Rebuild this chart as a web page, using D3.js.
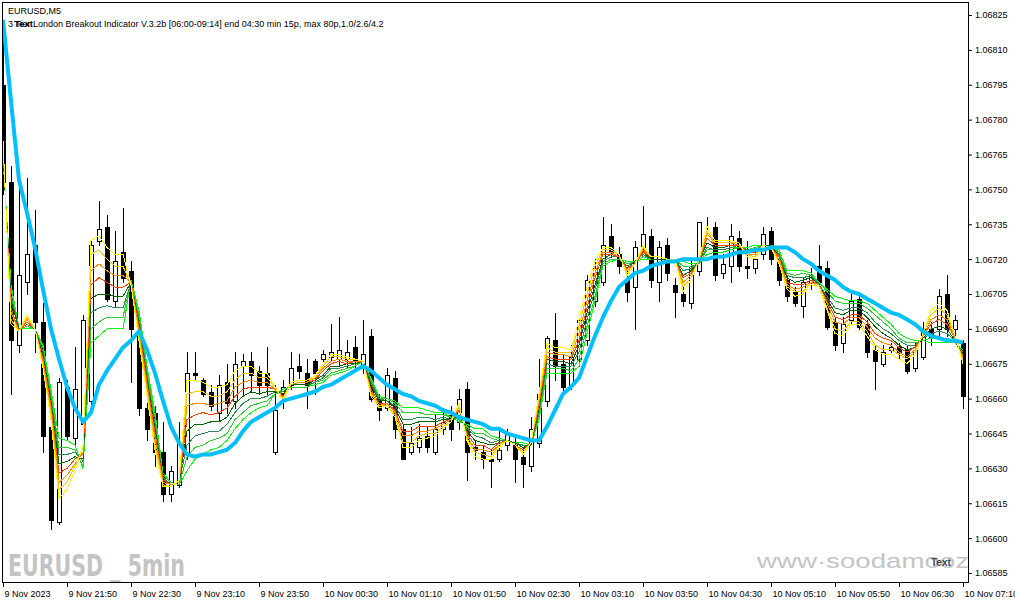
<!DOCTYPE html>
<html><head><meta charset="utf-8">
<script src="https://cdn.jsdelivr.net/npm/d3@7"></script>
<style>html,body{margin:0;padding:0;background:#fff;}svg{display:block;}</style>
</head><body>
<svg id="chart" width="1015" height="605"></svg>
<script>
// ---- data (EURUSD M5) ----
const timeLabels = ["9 Nov 2023","9 Nov 21:50","9 Nov 22:30","9 Nov 23:10","9 Nov 23:50","10 Nov 00:30","10 Nov 01:10","10 Nov 01:50","10 Nov 02:30","10 Nov 03:10","10 Nov 03:50","10 Nov 04:30","10 Nov 05:10","10 Nov 05:50","10 Nov 06:30","10 Nov 07:10"];
const timeLabelBars = [0,8,16,24,32,40,48,56,64,72,80,88,96,104,112,120];
const priceTicks = [1.06825,1.06810,1.06795,1.06780,1.06765,1.06750,1.06735,1.06720,1.06705,1.06690,1.06675,1.06660,1.06645,1.06630,1.06615,1.06600,1.06585];

const open = [1.06795,1.06753,1.06683,1.06710,1.06726,1.06693,1.06648,1.06607,1.06665,1.06643,
1.06649,1.06659,1.06728,1.06734,1.06702,1.06723,1.06715,1.06691,1.06656,1.06654,
1.06637,1.06619,1.06623,1.06636,1.06671,1.06668,1.06663,1.06654,1.06667,1.06659,
1.06674,1.06676,1.06672,1.06671,1.06637,1.06662,1.06666,1.06674,1.06671,1.06676,
1.06677,1.06678,1.06677,1.06677,1.06682,1.06674,1.06687,1.06660,1.06656,1.06669,
1.06647,1.06637,1.06639,1.06644,1.06637,1.06647,1.06653,1.06650,1.06664,1.06639,
1.06637,1.06634,1.06634,1.06640,1.06640,1.06635,1.06631,1.06641,1.06659,1.06685,
1.06675,1.06666,1.06677,1.06685,1.06702,1.06710,1.06730,1.06722,1.06711,1.06708,
1.06725,1.06730,1.06710,1.06726,1.06709,1.06705,1.06701,1.06715,1.06736,1.06734,
1.06714,1.06717,1.06729,1.06717,1.06716,1.06722,1.06732,1.06720,1.06711,1.06706,
1.06700,1.06710,1.06717,1.06716,1.06693,1.06684,1.06694,1.06703,1.06692,1.06681,
1.06675,1.06681,1.06682,1.06681,1.06673,1.06678,1.06690,1.06690,1.06705,1.06690,
1.06684];
const high = [1.06815,1.06760,1.06758,1.06755,1.06741,1.06701,1.06655,1.06669,1.06668,1.06682,
1.06696,1.06728,1.06745,1.06739,1.06732,1.06742,1.06719,1.06695,1.06659,1.06657,
1.06650,1.06631,1.06650,1.06680,1.06680,1.06669,1.06666,1.06670,1.06675,1.06680,
1.06679,1.06680,1.06674,1.06682,1.06666,1.06668,1.06680,1.06679,1.06677,1.06677,
1.06681,1.06692,1.06695,1.06685,1.06687,1.06694,1.06690,1.06662,1.06673,1.06672,
1.06649,1.06648,1.06649,1.06648,1.06653,1.06656,1.06657,1.06664,1.06667,1.06642,
1.06640,1.06638,1.06647,1.06647,1.06643,1.06639,1.06652,1.06677,1.06687,1.06697,
1.06679,1.06683,1.06696,1.06713,1.06720,1.06738,1.06735,1.06725,1.06715,1.06728,
1.06743,1.06733,1.06728,1.06729,1.06712,1.06708,1.06719,1.06736,1.06738,1.06736,
1.06722,1.06735,1.06732,1.06728,1.06724,1.06734,1.06734,1.06721,1.06713,1.06708,
1.06712,1.06716,1.06726,1.06719,1.06695,1.06695,1.06705,1.06705,1.06694,1.06683,
1.06683,1.06684,1.06684,1.06683,1.06684,1.06693,1.06693,1.06707,1.06713,1.06696,
1.06685];
const low = [1.06748,1.06662,1.06680,1.06705,1.06680,1.06637,1.06604,1.06606,1.06642,1.06640,
1.06647,1.06657,1.06726,1.06702,1.06700,1.06710,1.06667,1.06653,1.06642,1.06631,
1.06616,1.06616,1.06622,1.06634,1.06668,1.06661,1.06655,1.06651,1.06654,1.06656,
1.06662,1.06663,1.06662,1.06662,1.06636,1.06656,1.06664,1.06669,1.06656,1.06662,
1.06676,1.06676,1.06674,1.06673,1.06672,1.06671,1.06659,1.06651,1.06655,1.06643,
1.06634,1.06636,1.06637,1.06637,1.06636,1.06645,1.06642,1.06647,1.06625,1.06634,
1.06630,1.06622,1.06633,1.06638,1.06624,1.06622,1.06629,1.06639,1.06657,1.06668,
1.06663,1.06664,1.06674,1.06683,1.06700,1.06709,1.06721,1.06714,1.06702,1.06690,
1.06723,1.06708,1.06702,1.06711,1.06695,1.06700,1.06699,1.06713,1.06733,1.06711,
1.06712,1.06710,1.06715,1.06712,1.06714,1.06720,1.06718,1.06709,1.06702,1.06700,
1.06695,1.06707,1.06707,1.06690,1.06681,1.06680,1.06692,1.06690,1.06678,1.06664,
1.06674,1.06680,1.06677,1.06671,1.06672,1.06677,1.06683,1.06687,1.06687,1.06685,
1.06656];
const close = [1.06753,1.06685,1.06713,1.06722,1.06693,1.06644,1.06608,1.06667,1.06644,1.06664,
1.06694,1.06726,1.06733,1.06703,1.06719,1.06712,1.06690,1.06656,1.06647,1.06637,
1.06619,1.06629,1.06641,1.06671,1.06670,1.06662,1.06657,1.06666,1.06658,1.06675,
1.06676,1.06670,1.06666,1.06666,1.06655,1.06665,1.06673,1.06672,1.06666,1.06671,
1.06679,1.06680,1.06681,1.06680,1.06676,1.06679,1.06660,1.06655,1.06670,1.06647,
1.06634,1.06641,1.06643,1.06639,1.06647,1.06650,1.06647,1.06660,1.06637,1.06638,
1.06634,1.06633,1.06638,1.06645,1.06634,1.06632,1.06647,1.06662,1.06686,1.06674,
1.06665,1.06678,1.06694,1.06711,1.06716,1.06726,1.06723,1.06717,1.06706,1.06725,
1.06731,1.06711,1.06725,1.06714,1.06706,1.06702,1.06717,1.06736,1.06736,1.06713,
1.06718,1.06730,1.06717,1.06716,1.06720,1.06731,1.06720,1.06711,1.06704,1.06701,
1.06710,1.06713,1.06710,1.06691,1.06683,1.06692,1.06702,1.06691,1.06680,1.06676,
1.06680,1.06682,1.06680,1.06672,1.06681,1.06690,1.06686,1.06704,1.06690,1.06694,
1.06661];

// slow moving average (thick blue)
const slowMA = [1.06823,1.06788,1.06754,1.06740,1.06725,1.06707,1.06690,1.06677,1.06665,1.06656,
1.06650,1.06654,1.06666,1.06672,1.06677,1.06682,1.06685,1.06689,1.06681,1.06671,
1.06659,1.06648,1.06641,1.06636,1.06635,1.06636,1.06636,1.06637,1.06638,1.06641,
1.06646,1.06650,1.06652,1.06654,1.06656,1.06659,1.06660,1.06661,1.06662,1.06663,
1.06665,1.06666,1.06668,1.06670,1.06672,1.06674,1.06672,1.06669,1.06666,1.06664,
1.06662,1.06661,1.06659,1.06658,1.06657,1.06655,1.06654,1.06652,1.06651,1.06650,
1.06649,1.06647,1.06647,1.06645,1.06644,1.06643,1.06642,1.06642,1.06648,1.06655,
1.06662,1.06665,1.06669,1.06678,1.06687,1.06695,1.06702,1.06708,1.06711,1.06714,
1.06715,1.06717,1.06718,1.06719,1.06719,1.06720,1.06720,1.06720,1.06720,1.06721,
1.06721,1.06722,1.06723,1.06723,1.06724,1.06724,1.06725,1.06725,1.06725,1.06723,
1.06720,1.06718,1.06715,1.06713,1.06711,1.06708,1.06706,1.06705,1.06703,1.06701,
1.06699,1.06697,1.06696,1.06694,1.06692,1.06689,1.06687,1.06686,1.06685,1.06685,
1.06684];

// ribbon of moving averages, fastest to slowest
const ribbonYellow = [1.06771,1.06692,1.06689,1.06696,1.06690,1.06673,1.06651,1.06617,1.06621,1.06629,
1.06640,1.06728,1.06730,1.06725,1.06722,1.06722,1.06709,1.06685,1.06661,1.06638,
1.06622,1.06622,1.06625,1.06668,1.06668,1.06667,1.06665,1.06665,1.06666,1.06672,
1.06674,1.06674,1.06671,1.06671,1.06665,1.06659,1.06667,1.06668,1.06668,1.06670,
1.06675,1.06679,1.06679,1.06678,1.06677,1.06676,1.06661,1.06656,1.06657,1.06652,
1.06639,1.06639,1.06642,1.06643,1.06644,1.06647,1.06650,1.06658,1.06642,1.06635,
1.06634,1.06634,1.06639,1.06642,1.06640,1.06636,1.06641,1.06662,1.06684,1.06682,
1.06682,1.06681,1.06694,1.06708,1.06719,1.06725,1.06725,1.06722,1.06713,1.06718,
1.06726,1.06721,1.06721,1.06720,1.06720,1.06706,1.06711,1.06720,1.06734,1.06728,
1.06728,1.06728,1.06727,1.06721,1.06720,1.06726,1.06725,1.06718,1.06707,1.06704,
1.06705,1.06709,1.06708,1.06698,1.06688,1.06687,1.06692,1.06692,1.06687,1.06681,
1.06679,1.06679,1.06677,1.06675,1.06679,1.06688,1.06698,1.06701,1.06698,1.06687,
1.06675];
const ribbonGold = [1.06770,1.06694,1.06689,1.06695,1.06690,1.06674,1.06653,1.06621,1.06624,1.06631,
1.06639,1.06722,1.06724,1.06720,1.06717,1.06717,1.06709,1.06687,1.06663,1.06640,
1.06623,1.06622,1.06625,1.06662,1.06663,1.06663,1.06661,1.06661,1.06663,1.06668,
1.06671,1.06671,1.06669,1.06669,1.06665,1.06660,1.06667,1.06668,1.06668,1.06669,
1.06674,1.06678,1.06678,1.06677,1.06677,1.06676,1.06662,1.06657,1.06657,1.06653,
1.06641,1.06641,1.06644,1.06645,1.06645,1.06648,1.06650,1.06657,1.06643,1.06637,
1.06636,1.06635,1.06640,1.06642,1.06640,1.06637,1.06641,1.06660,1.06682,1.06680,
1.06680,1.06680,1.06691,1.06705,1.06717,1.06724,1.06724,1.06722,1.06714,1.06718,
1.06725,1.06721,1.06721,1.06720,1.06720,1.06708,1.06712,1.06720,1.06732,1.06727,
1.06727,1.06727,1.06727,1.06722,1.06721,1.06726,1.06725,1.06719,1.06708,1.06706,
1.06706,1.06710,1.06708,1.06699,1.06690,1.06689,1.06693,1.06693,1.06689,1.06683,
1.06681,1.06681,1.06679,1.06677,1.06680,1.06688,1.06696,1.06699,1.06696,1.06687,
1.06676];
const ribbonOrange = [1.06769,1.06697,1.06689,1.06694,1.06690,1.06676,1.06655,1.06624,1.06627,1.06632,
1.06637,1.06715,1.06718,1.06715,1.06713,1.06713,1.06710,1.06689,1.06665,1.06643,
1.06624,1.06623,1.06624,1.06657,1.06658,1.06658,1.06657,1.06658,1.06659,1.06665,
1.06667,1.06668,1.06667,1.06667,1.06664,1.06660,1.06666,1.06667,1.06667,1.06669,
1.06673,1.06676,1.06677,1.06676,1.06676,1.06676,1.06663,1.06657,1.06658,1.06654,
1.06644,1.06644,1.06646,1.06646,1.06647,1.06649,1.06651,1.06656,1.06644,1.06638,
1.06638,1.06637,1.06640,1.06642,1.06640,1.06637,1.06641,1.06659,1.06680,1.06679,
1.06679,1.06678,1.06688,1.06702,1.06714,1.06723,1.06723,1.06721,1.06715,1.06718,
1.06724,1.06721,1.06721,1.06720,1.06720,1.06710,1.06713,1.06719,1.06731,1.06727,
1.06727,1.06727,1.06726,1.06722,1.06722,1.06726,1.06725,1.06720,1.06709,1.06707,
1.06708,1.06710,1.06709,1.06701,1.06693,1.06692,1.06695,1.06695,1.06691,1.06686,
1.06684,1.06683,1.06680,1.06678,1.06681,1.06687,1.06694,1.06696,1.06694,1.06686,
1.06677];
const ribbonRed = [1.06768,1.06699,1.06689,1.06693,1.06690,1.06677,1.06657,1.06628,1.06630,1.06634,
1.06636,1.06709,1.06712,1.06710,1.06708,1.06708,1.06710,1.06691,1.06667,1.06645,
1.06625,1.06623,1.06624,1.06651,1.06653,1.06654,1.06653,1.06654,1.06656,1.06661,
1.06664,1.06665,1.06665,1.06665,1.06664,1.06661,1.06666,1.06667,1.06667,1.06668,
1.06672,1.06675,1.06676,1.06675,1.06676,1.06676,1.06664,1.06658,1.06658,1.06655,
1.06646,1.06646,1.06648,1.06648,1.06648,1.06650,1.06651,1.06655,1.06645,1.06640,
1.06640,1.06638,1.06641,1.06642,1.06640,1.06638,1.06641,1.06657,1.06678,1.06677,
1.06677,1.06677,1.06685,1.06699,1.06712,1.06722,1.06722,1.06721,1.06716,1.06718,
1.06723,1.06721,1.06721,1.06720,1.06720,1.06712,1.06714,1.06719,1.06729,1.06726,
1.06726,1.06726,1.06726,1.06723,1.06723,1.06726,1.06725,1.06721,1.06710,1.06709,
1.06709,1.06711,1.06709,1.06702,1.06695,1.06694,1.06696,1.06696,1.06693,1.06688,
1.06686,1.06685,1.06682,1.06680,1.06682,1.06687,1.06692,1.06694,1.06692,1.06686,
1.06678];
const ribbonDarkGreen = [1.06766,1.06702,1.06690,1.06693,1.06690,1.06679,1.06658,1.06632,1.06633,1.06635,
1.06634,1.06703,1.06705,1.06705,1.06704,1.06704,1.06710,1.06692,1.06668,1.06647,
1.06625,1.06623,1.06624,1.06646,1.06649,1.06649,1.06650,1.06650,1.06652,1.06658,
1.06661,1.06663,1.06662,1.06663,1.06663,1.06662,1.06666,1.06666,1.06666,1.06668,
1.06670,1.06674,1.06674,1.06675,1.06675,1.06676,1.06666,1.06659,1.06659,1.06656,
1.06649,1.06649,1.06650,1.06650,1.06650,1.06651,1.06651,1.06653,1.06646,1.06642,
1.06641,1.06640,1.06641,1.06642,1.06641,1.06639,1.06640,1.06656,1.06677,1.06676,
1.06676,1.06675,1.06683,1.06697,1.06709,1.06720,1.06722,1.06721,1.06716,1.06719,
1.06723,1.06720,1.06720,1.06720,1.06720,1.06713,1.06715,1.06719,1.06727,1.06725,
1.06725,1.06726,1.06726,1.06723,1.06723,1.06726,1.06726,1.06721,1.06712,1.06710,
1.06711,1.06712,1.06709,1.06703,1.06697,1.06696,1.06698,1.06698,1.06695,1.06691,
1.06688,1.06686,1.06683,1.06681,1.06682,1.06686,1.06690,1.06691,1.06690,1.06685,
1.06678];
const ribbonSeaGreen = [1.06765,1.06704,1.06690,1.06692,1.06690,1.06680,1.06660,1.06636,1.06636,1.06637,
1.06633,1.06697,1.06699,1.06700,1.06699,1.06699,1.06710,1.06694,1.06670,1.06649,
1.06626,1.06623,1.06624,1.06640,1.06644,1.06645,1.06646,1.06646,1.06649,1.06654,
1.06658,1.06660,1.06660,1.06661,1.06663,1.06663,1.06666,1.06666,1.06666,1.06667,
1.06669,1.06673,1.06673,1.06674,1.06675,1.06676,1.06667,1.06660,1.06659,1.06657,
1.06651,1.06651,1.06652,1.06652,1.06651,1.06652,1.06651,1.06652,1.06647,1.06644,
1.06643,1.06641,1.06642,1.06642,1.06641,1.06640,1.06640,1.06654,1.06675,1.06674,
1.06674,1.06674,1.06680,1.06694,1.06707,1.06719,1.06721,1.06721,1.06717,1.06719,
1.06722,1.06720,1.06720,1.06720,1.06720,1.06715,1.06716,1.06719,1.06725,1.06724,
1.06724,1.06725,1.06726,1.06724,1.06724,1.06726,1.06726,1.06722,1.06713,1.06712,
1.06712,1.06713,1.06709,1.06704,1.06699,1.06698,1.06699,1.06699,1.06697,1.06693,
1.06690,1.06688,1.06685,1.06683,1.06683,1.06686,1.06688,1.06689,1.06688,1.06685,
1.06679];
const ribbonLimeGreen = [1.06764,1.06707,1.06690,1.06691,1.06690,1.06682,1.06662,1.06639,1.06639,1.06638,
1.06631,1.06690,1.06693,1.06695,1.06695,1.06695,1.06711,1.06696,1.06672,1.06652,
1.06627,1.06624,1.06623,1.06635,1.06639,1.06640,1.06642,1.06643,1.06645,1.06651,
1.06654,1.06657,1.06658,1.06659,1.06662,1.06663,1.06665,1.06665,1.06665,1.06667,
1.06668,1.06671,1.06672,1.06673,1.06674,1.06676,1.06668,1.06660,1.06660,1.06658,
1.06654,1.06654,1.06654,1.06653,1.06653,1.06653,1.06652,1.06651,1.06648,1.06645,
1.06645,1.06643,1.06642,1.06642,1.06641,1.06640,1.06640,1.06653,1.06673,1.06673,
1.06673,1.06672,1.06677,1.06691,1.06704,1.06718,1.06720,1.06720,1.06718,1.06719,
1.06721,1.06720,1.06720,1.06720,1.06720,1.06717,1.06717,1.06718,1.06724,1.06724,
1.06724,1.06725,1.06725,1.06724,1.06725,1.06726,1.06726,1.06723,1.06714,1.06713,
1.06714,1.06713,1.06710,1.06706,1.06702,1.06701,1.06701,1.06701,1.06699,1.06696,
1.06693,1.06690,1.06686,1.06684,1.06684,1.06685,1.06686,1.06686,1.06686,1.06684,
1.06680];
const ribbonLime = [1.06763,1.06709,1.06690,1.06690,1.06690,1.06683,1.06664,1.06643,1.06642,1.06640,
1.06630,1.06684,1.06687,1.06690,1.06690,1.06690,1.06711,1.06698,1.06674,1.06654,
1.06628,1.06624,1.06623,1.06629,1.06634,1.06636,1.06638,1.06639,1.06642,1.06647,
1.06651,1.06654,1.06656,1.06657,1.06662,1.06664,1.06665,1.06665,1.06665,1.06666,
1.06667,1.06670,1.06671,1.06672,1.06674,1.06676,1.06669,1.06661,1.06660,1.06659,
1.06656,1.06656,1.06656,1.06655,1.06654,1.06654,1.06652,1.06650,1.06649,1.06647,
1.06647,1.06644,1.06643,1.06642,1.06641,1.06641,1.06640,1.06651,1.06671,1.06671,
1.06671,1.06671,1.06674,1.06688,1.06702,1.06717,1.06719,1.06720,1.06719,1.06719,
1.06720,1.06720,1.06720,1.06720,1.06720,1.06719,1.06718,1.06718,1.06722,1.06723,
1.06723,1.06724,1.06725,1.06725,1.06726,1.06726,1.06726,1.06724,1.06715,1.06715,
1.06715,1.06714,1.06710,1.06707,1.06704,1.06703,1.06702,1.06702,1.06701,1.06698,
1.06695,1.06692,1.06688,1.06686,1.06685,1.06685,1.06684,1.06684,1.06684,1.06684,
1.06681];

// ---- drawing ----
const svg = d3.select("#chart");
const W = 1015, H = 605;
const frame = {left: 2.5, top: 2.5, right: 968.5, bottom: 582.5};
const FONT = "'Liberation Sans', Arial, sans-serif";

svg.append("rect").attr("width", W).attr("height", H).attr("fill", "#fff");

const x = d3.scaleLinear().domain([0, 120]).range([3, 963]);
const y = d3.scaleLinear().domain([1.06585, 1.06825]).range([573, 15]);

const plot = svg.append("g");
plot.append("clipPath").attr("id", "clip").append("rect")
  .attr("x", 3).attr("y", 3).attr("width", 965).attr("height", 579);
const g = plot.append("g").attr("clip-path", "url(#clip)");

// candles
const bars = open.map((o, i) => ({i, o, h: high[i], l: low[i], c: close[i]}));
const cg = g.append("g").attr("shape-rendering", "crispEdges");
cg.selectAll("line.wick").data(bars).join("line").attr("class", "wick")
  .attr("x1", d => Math.round(x(d.i)) + 0.5).attr("x2", d => Math.round(x(d.i)) + 0.5)
  .attr("y1", d => Math.round(y(d.h))).attr("y2", d => Math.round(y(d.l)) + 1)
  .attr("stroke", "#000").attr("stroke-width", 1);
cg.selectAll("rect.body").data(bars).join("rect").attr("class", "body")
  .attr("x", d => Math.round(x(d.i)) - 1.5)
  .attr("y", d => Math.round(y(Math.max(d.o, d.c))) + 0.5)
  .attr("width", 4)
  .attr("height", d => Math.max(0, Math.round(y(Math.min(d.o, d.c))) - Math.round(y(Math.max(d.o, d.c)))))
  .attr("fill", d => d.c < d.o ? "#000" : "#fff")
  .attr("stroke", "#000").attr("stroke-width", 1);

// ribbon (slowest drawn first)
const ribbons = [
  [ribbonLime, "#00ff00"], [ribbonLimeGreen, "#32cd32"], [ribbonSeaGreen, "#2e8b57"], [ribbonDarkGreen, "#006400"],
  [ribbonRed, "#ff4500"], [ribbonOrange, "#ff8c00"], [ribbonGold, "#ffc800"], [ribbonYellow, "#ffff00"]
];
const line = d3.line().x((d, i) => x(i)).y(d => y(d));
ribbons.forEach(([arr, col]) => {
  g.append("path").attr("d", line(arr)).attr("fill", "none")
    .attr("stroke", col).attr("stroke-width", 1).attr("shape-rendering", "crispEdges");
});
g.append("path").attr("d", line(slowMA)).attr("fill", "none")
  .attr("stroke", "#00bfff").attr("stroke-width", 4).attr("stroke-linejoin", "round");

// watermark texts
svg.append("text").attr("x", 8).attr("y", 576).text("EURUSD _ 5min")
  .attr("font-family", "'Liberation Sans Narrow', 'DejaVu Sans Condensed', sans-serif")
  .attr("font-weight", "bold").attr("font-size", 30).attr("fill", "#c3c3c3")
  .attr("textLength", 177).attr("lengthAdjust", "spacingAndGlyphs");
svg.append("text").attr("x", 757).attr("y", 568).text("www\u00b7soodamooz")
  .attr("font-family", FONT).attr("font-size", 21).attr("fill", "#c4c4c4")
  .attr("textLength", 212).attr("lengthAdjust", "spacingAndGlyphs");
svg.append("text").attr("x", 931).attr("y", 566).text("Text")
  .attr("font-family", FONT).attr("font-weight", "bold").attr("font-size", 10).attr("fill", "#444");

// frame
svg.append("rect").attr("x", frame.left).attr("y", frame.top)
  .attr("width", frame.right - frame.left).attr("height", frame.bottom - frame.top)
  .attr("fill", "none").attr("stroke", "#000").attr("stroke-width", 1).attr("shape-rendering", "crispEdges");

// right price axis
const yAxis = d3.axisRight(y).tickValues(priceTicks).tickSize(4).tickPadding(3).tickFormat(d3.format(".5f"));
const ya = svg.append("g").attr("transform", "translate(968,0)").call(yAxis);
ya.select(".domain").remove();
ya.selectAll("text").attr("font-family", FONT).attr("font-size", 9).attr("fill", "#000");
ya.selectAll("line").attr("stroke", "#000");

// bottom time axis
const xAxis = d3.axisBottom(x).tickValues(timeLabelBars).tickSize(5)
  .tickFormat((d, i) => timeLabels[i]);
const xa = svg.append("g").attr("transform", "translate(0,582)").call(xAxis);
xa.select(".domain").remove();
xa.selectAll("text").attr("font-family", FONT).attr("font-size", 9).attr("fill", "#000")
  .attr("text-anchor", "start").attr("x", 1).attr("y", 9).attr("dy", "0.71em");
xa.selectAll("line").attr("stroke", "#000");

// header texts
svg.append("text").attr("x", 8).attr("y", 14).text("EURUSD,M5")
  .attr("font-family", FONT).attr("font-size", 9).attr("fill", "#000");
svg.append("text").attr("x", 8).attr("y", 27)
  .text("3 Tier London Breakout Indicator V.3.2b [06:00-09:14] end 04:30 min 15p, max 80p,1.0/2.6/4.2")
  .attr("font-family", FONT).attr("font-size", 9).attr("fill", "#000");
svg.append("text").attr("x", 14).attr("y", 27).text("Text")
  .attr("font-family", FONT).attr("font-weight", "bold").attr("font-size", 9.5).attr("fill", "#000");
</script>
</body></html>
